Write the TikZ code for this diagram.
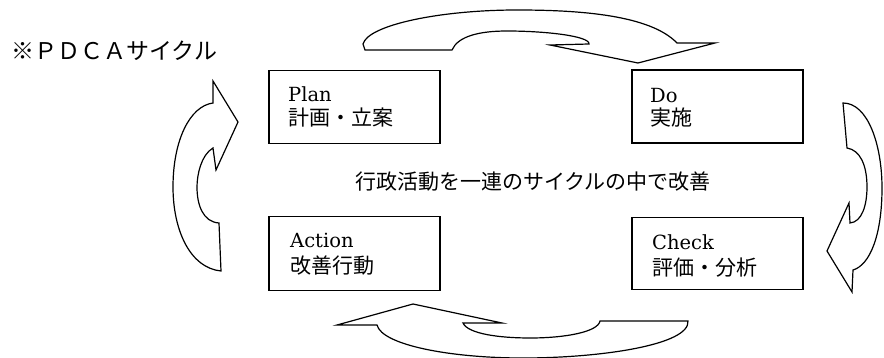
\documentclass[tikz,border=0pt]{standalone}
\usepackage{fontspec}
\newfontfamily\jp{Noto Sans CJK JP}
\newfontfamily\latn{DejaVu Serif}
\begin{document}
\begin{tikzpicture}[x=1pt,y=-1pt,
  cyc/.style={draw=black, line width=1.2pt, fill=white, line join=miter},
  stagebox/.style={draw, line width=1.3pt, minimum width=171pt, minimum height=73pt, inner sep=0pt},
  lat/.style={anchor=base west, inner sep=0pt, font=\latn\fontsize{19.5}{22}\selectfont},
  jpt/.style={anchor=base west, inner sep=0pt, font=\jp\fontsize{21}{24}\selectfont}]
\useasboundingbox (0,0) rectangle (884,358);

% title
\node[anchor=base west, inner sep=0pt, font=\jp\fontsize{23}{26}\selectfont] (title) at (11,60) {※ＰＤＣＡサイクル};

% boxes
\node[stagebox] (plan) at (354.5,107) {};
\node[stagebox] (do) at (717.5,106.5) {};
\node[stagebox, minimum height=74pt] (action) at (354.5,253.5) {};
\node[stagebox, minimum height=72pt] (check) at (717.5,253.5) {};

% box texts
\node[lat] (planE) at (288,102) {Plan};
\node[jpt] (planJ) at (288,126) {計画・立案};
\node[lat] (doE) at (650,103) {Do};
\node[jpt] (doJ) at (650,126) {実施};
\node[lat] (actionE) at (290,248) {Action};
\node[jpt] (actionJ) at (290,273) {改善行動};
\node[lat] (checkE) at (652,250) {Check};
\node[jpt] (checkJ) at (652,276) {評価・分析};

% centre text
\node[inner sep=0pt, font=\jp\fontsize{21}{24}\selectfont] (centre) at (533,182) {行政活動を一連のサイクルの中で改善};

% top arrow: Plan -> Do
\path[cyc] (365,50) -- (452,50)
  .. controls (458,36) and (480,31) .. (507,31)
  .. controls (545,31) and (590,36) .. (589,44)
  -- (550,45) -- (638,63) -- (715,43) -- (677,43)
  .. controls (650,15) and (580,10) .. (517,10)
  .. controls (440,10) and (368,25) .. (363,44) -- cycle;

% right arrow: Do -> Check
\path[cyc] (843,103)
  .. controls (868,103) and (882,145) .. (882,188)
  .. controls (882,235) and (870,265) .. (853,270)
  -- (852,292) -- (827,251) -- (849,203) -- (850,223)
  .. controls (862,222) and (867,205) .. (867,187)
  .. controls (867,165) and (860,150) .. (847,148) -- cycle;

% bottom arrow: Check -> Action
\path[cyc] (337,325) -- (413,304) -- (502,323) -- (463,323)
  .. controls (468,334) and (500,338) .. (530,338)
  .. controls (565,338) and (598,332) .. (600,321)
  -- (688,321)
  .. controls (690,345) and (600,358) .. (523,358)
  .. controls (450,358) and (382,345) .. (377,325) -- cycle;

% left arrow: Action -> Plan
\path[cyc] (238,122) -- (216,170) -- (213,148)
  .. controls (201,155) and (197,175) .. (197,187)
  .. controls (197,205) and (203,222) .. (219,223)
  -- (221,271)
  .. controls (190,268) and (173,230) .. (173,187)
  .. controls (173,140) and (190,106) .. (213,103)
  -- (213,81) -- cycle;
\end{tikzpicture}
\end{document}
